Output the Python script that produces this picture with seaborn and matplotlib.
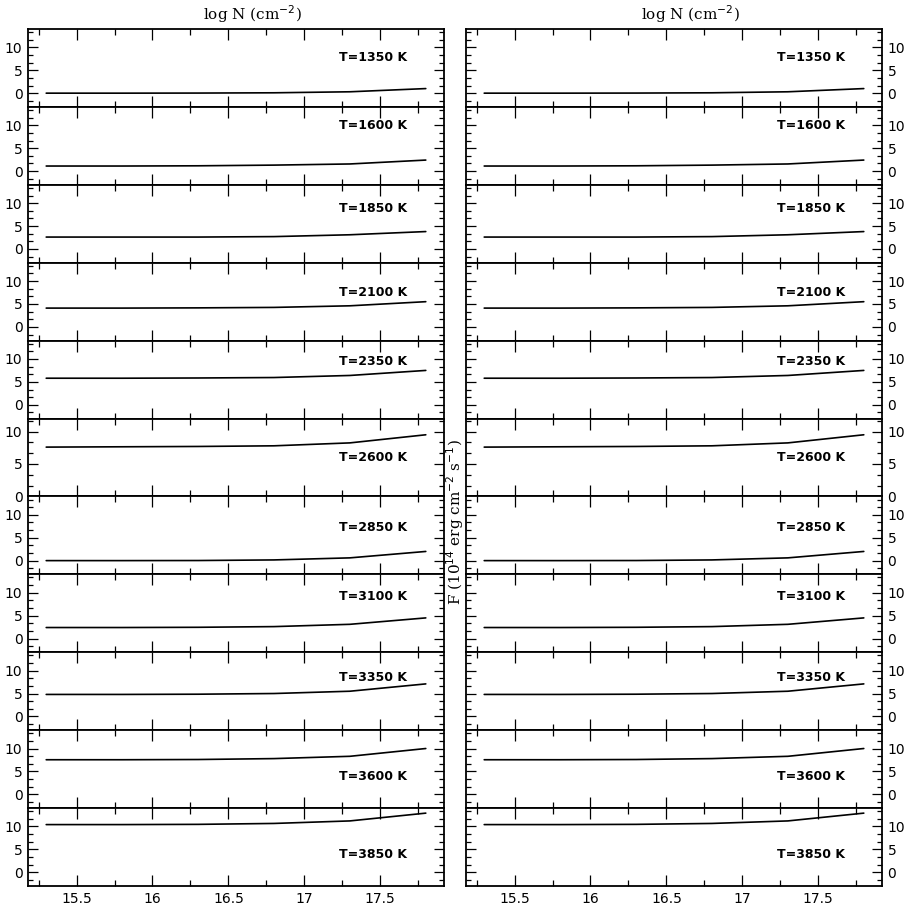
"""Column density vs. flux grid - 11 temperatures, two identical columns."""

import matplotlib
matplotlib.use("Agg")
import matplotlib.pyplot as plt
from matplotlib.ticker import AutoMinorLocator, FixedLocator
import pandas as pd
import seaborn as sns

sns.set_theme(style="ticks")
plt.rcParams["font.family"] = ["DejaVu Sans"]
plt.rcParams["text.color"] = "black"

# ---------- data ----------
log_n = [15.3, 15.8, 16.3, 16.8, 17.3, 17.8]
temps = [1350, 1600, 1850, 2100, 2350, 2600, 2850, 3100, 3350, 3600, 3850]

flux_1350 = [0.0, 0.0, 0.02, 0.08, 0.3, 1.0]
flux_1600 = [1.1, 1.1, 1.15, 1.3, 1.55, 2.4]
flux_1850 = [2.6, 2.6, 2.6, 2.7, 3.1, 3.8]
flux_2100 = [4.1, 4.1, 4.15, 4.25, 4.6, 5.5]
flux_2350 = [5.8, 5.8, 5.85, 5.95, 6.4, 7.5]
flux_2600 = [7.6, 7.65, 7.7, 7.8, 8.25, 9.5]
flux_2850 = [0.0, 0.0, 0.02, 0.15, 0.6, 2.0]
flux_3100 = [2.4, 2.4, 2.45, 2.6, 3.1, 4.5]
flux_3350 = [4.8, 4.8, 4.85, 5.0, 5.5, 7.1]
flux_3600 = [7.55, 7.55, 7.6, 7.8, 8.3, 10.0]
flux_3850 = [10.4, 10.4, 10.45, 10.65, 11.2, 12.9]

fluxes = [flux_1350, flux_1600, flux_1850, flux_2100, flux_2350, flux_2600,
          flux_2850, flux_3100, flux_3350, flux_3600, flux_3850]

# ---------- layout ----------
W = 910
fig = plt.figure(figsize=(9.1, 9.1), dpi=100)
n = len(temps)
top, bottom = 1 - 29 / W, 1 - 886 / W
ph = (top - bottom) / n
col_left = [28 / W, 466 / W]
col_w = 416 / W
label_y = [0.63, 0.76, 0.69, 0.62, 0.73, 0.50, 0.60, 0.72, 0.67, 0.40, 0.40]

for c, x0 in enumerate(col_left):
    for i, (t, f) in enumerate(zip(temps, fluxes)):
        ax = fig.add_axes([x0, top - (i + 1) * ph, col_w, ph])
        df = pd.DataFrame({"logN": log_n, "F": f})
        sns.lineplot(data=df, x="logN", y="F", ax=ax, color="black", linewidth=1.2)
        ax.set_xlim(15.18, 17.92)
        if t == 2600:
            ax.set_ylim(0, 12)
        else:
            ax.set_ylim(-3, 14)
        ax.xaxis.set_major_locator(FixedLocator([15.5, 16, 16.5, 17, 17.5]))
        ax.xaxis.set_minor_locator(AutoMinorLocator(2))
        ax.yaxis.set_major_locator(FixedLocator([0, 5, 10]))
        ax.yaxis.set_minor_locator(AutoMinorLocator(3))
        ax.tick_params(which="both", direction="in", top=True, bottom=True,
                       left=True, right=True, colors="black", labelsize=10,
                       width=0.9, pad=4)
        ax.tick_params(axis="x", which="major", length=8)
        ax.tick_params(axis="x", which="minor", length=4)
        ax.tick_params(axis="y", which="major", length=7)
        ax.tick_params(axis="y", which="minor", length=3.5)
        ax.tick_params(axis="y", labelleft=(c == 0), labelright=(c == 1))
        ax.tick_params(axis="x", labelbottom=(i == n - 1))
        ax.set_xticklabels(["15.5", "16", "16.5", "17", "17.5"])
        for sp in ax.spines.values():
            sp.set_linewidth(1.3)
            sp.set_color("black")
        ax.set_xlabel("")
        ax.set_ylabel("")
        ax.text(0.83, label_y[i], f"T={t} K", transform=ax.transAxes,
                ha="center", va="center", fontsize=9, fontweight="bold",
                color="black")
        if i == 0:
            ax.text(0.54, 1.05, r"log N (cm$^{-2}$)", transform=ax.transAxes,
                    ha="center", va="bottom", fontsize=11, family="DejaVu Serif",
                    color="black")

fig.text(455 / W, 1 - 522 / W, r"F (10$^{14}$ erg cm$^{-2}$ s$^{-1}$)",
         rotation=90, ha="center", va="center", fontsize=11, family="DejaVu Serif",
         color="black")

fig.savefig("out.png", dpi=100)
